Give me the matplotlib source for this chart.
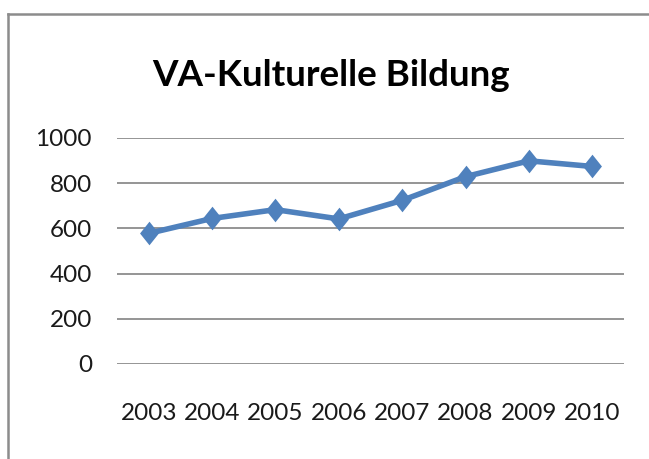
import matplotlib.pyplot as plt
from matplotlib.lines import Line2D

# data
years = ['2003', '2004', '2005', '2006', '2007', '2008', '2009', '2010']
values = [578, 644, 683, 642, 724, 829, 899, 874]
y_ticks = [0, 200, 400, 600, 800, 1000]

plt.rcParams['font.family'] = ['Lato', 'DejaVu Sans']

fig = plt.figure(figsize=(6.49, 4.59), dpi=100)
ax = fig.add_axes([117 / 649, 1 - 364 / 459, 507 / 649, 226 / 459])

diamond = [(0, 1.25), (1, 0), (0, -1.25), (-1, 0), (0, 1.25)]
x = range(len(years))
ax.plot(x, values, color='#4F81BD', linewidth=4.0, marker=diamond,
        markersize=17, markeredgewidth=0, solid_joinstyle='round', zorder=3)

ax.set_xlim(-0.5, len(years) - 0.5)
ax.set_ylim(0, 1000)
ax.set_yticks(y_ticks)
ax.set_xticks(list(x))
ax.set_xticklabels(years)
ax.yaxis.grid(True, color='#8C8C8C', linewidth=1.3)
ax.set_axisbelow(True)
for s in ax.spines.values():
    s.set_visible(False)
ax.tick_params(length=0, labelsize=17.5, colors='#1a1a1a')
ax.tick_params(axis='y', pad=18)
ax.tick_params(axis='x', pad=28)

fig.text(331 / 649, 1 - 75 / 459, 'VA-Kulturelle Bildung', ha='center', va='center',
         fontsize=26.5, fontweight='bold', color='black')

# chart area border (only top and left visible in the crop)
fig.add_artist(Line2D([8 / 649, 1.0], [1 - 14 / 459, 1 - 14 / 459], color='#8C8C8C', linewidth=1.8))
fig.add_artist(Line2D([8 / 649, 8 / 649], [0, 1 - 14 / 459], color='#8C8C8C', linewidth=1.8))

fig.savefig('out.png', dpi=100)
